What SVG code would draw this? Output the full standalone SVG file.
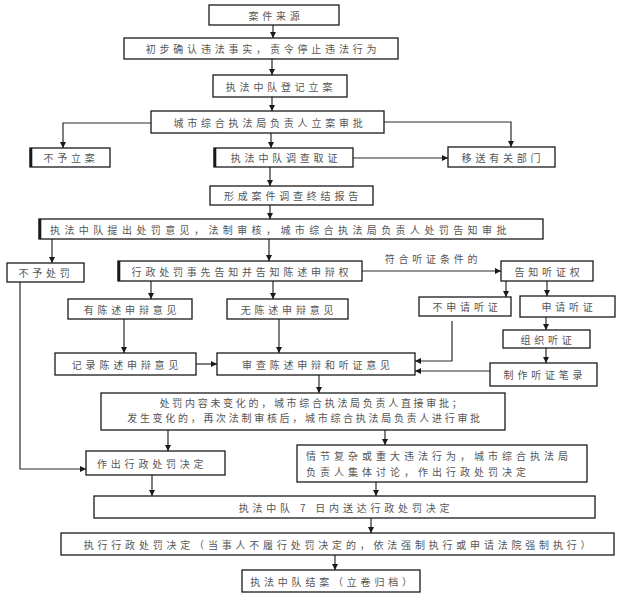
<svg xmlns="http://www.w3.org/2000/svg" width="632" height="597" viewBox="0 0 632 597">
<style>
.box{fill:#fff;stroke:#1a1a1a;stroke-width:1.3}
.thick{stroke:#1a1a1a;stroke-width:2.6}
.t{font-family:"Noto Sans CJK SC","Noto Sans",sans-serif;font-size:10px;fill:#555;letter-spacing:3.8px;dominant-baseline:central}
.m{text-anchor:middle}
.c{fill:none;stroke:#2a2a2a;stroke-width:1.2}
</style>
<defs>
<marker id="a" markerUnits="userSpaceOnUse" markerWidth="6" markerHeight="6" refX="6" refY="3" orient="auto">
<path d="M0,0 L6,3 L0,6 z" fill="#1a1a1a"/>
</marker>
</defs>
<rect width="632" height="597" fill="#fff"/>
<g id="connectors">
<path class="c" marker-end="url(#a)" d="M273,25 V38"/>
<path class="c" marker-end="url(#a)" d="M272,59 V75"/>
<path class="c" marker-end="url(#a)" d="M272,97 V111"/>
<path class="c" marker-end="url(#a)" d="M151,123 H63 V148"/>
<path class="c" marker-end="url(#a)" d="M384,122 H511 V147"/>
<path class="c" marker-end="url(#a)" d="M271,133 V148"/>
<path class="c" marker-end="url(#a)" d="M353,158 H448"/>
<path class="c" marker-end="url(#a)" d="M270,167 V186"/>
<path class="c" marker-end="url(#a)" d="M270,205 V219"/>
<path class="c" marker-end="url(#a)" d="M52,239 V263"/>
<path class="c" marker-end="url(#a)" d="M269,239 V261"/>
<path class="c" marker-end="url(#a)" d="M362,271 H501"/>
<path class="c" marker-end="url(#a)" d="M506,281 V297"/>
<path class="c" marker-end="url(#a)" d="M547,281 V296"/>
<path class="c" marker-end="url(#a)" d="M151,281 V299"/>
<path class="c" marker-end="url(#a)" d="M273,281 V299"/>
<path class="c" marker-end="url(#a)" d="M124,319 V353"/>
<path class="c" marker-end="url(#a)" d="M279,319 V353"/>
<path class="c" marker-end="url(#a)" d="M196,364 H217"/>
<path class="c" marker-end="url(#a)" d="M452,321 V361 H415"/>
<path class="c" marker-end="url(#a)" d="M546,317 V330"/>
<path class="c" marker-end="url(#a)" d="M546,348 V363"/>
<path class="c" marker-end="url(#a)" d="M490,371 H415"/>
<path class="c" marker-end="url(#a)" d="M319,375 V393"/>
<path class="c" marker-end="url(#a)" d="M20,282 V469 H86"/>
<path class="c" marker-end="url(#a)" d="M168,430 V451"/>
<path class="c" marker-end="url(#a)" d="M385,430 V445"/>
<path class="c" marker-end="url(#a)" d="M152,475 V496"/>
<path class="c" marker-end="url(#a)" d="M376,482 V496"/>
<path class="c" marker-end="url(#a)" d="M371,518 V533"/>
<path class="c" marker-end="url(#a)" d="M335,555 V570"/>
<text class="t m" x="433" y="258">符合听证条件的</text>
</g>
<g id="n1"><rect class="box" x="209" y="5" width="130" height="20"/><text class="t m" x="276" y="15">案件来源</text></g>
<g id="n2"><rect class="box" x="124" y="38" width="274" height="21"/><text class="t m" x="263" y="48.5">初步确认违法事实，责令停止违法行为</text></g>
<g id="n3"><rect class="box" x="213" y="75" width="134" height="22"/><text class="t m" x="281" y="86">执法中队登记立案</text></g>
<g id="n4"><rect class="box" x="151" y="111" width="233" height="22"/><text class="t m" x="270" y="122">城市综合执法局负责人立案审批</text></g>
<g id="n5"><rect class="box" x="30" y="148" width="80" height="19"/><line class="thick" x1="31" y1="148" x2="31" y2="167"/><text class="t m" x="71" y="157.5">不予立案</text></g>
<g id="n6"><rect class="box" x="214" y="148" width="139" height="19"/><line class="thick" x1="215" y1="148" x2="215" y2="167"/><text class="t m" x="286" y="157.5">执法中队调查取证</text></g>
<g id="n7"><rect class="box" x="448" y="147" width="107" height="20"/><text class="t m" x="503" y="157">移送有关部门</text></g>
<g id="n8"><rect class="box" x="210" y="186" width="163" height="19"/><text class="t m" x="293" y="195.5">形成案件调查终结报告</text></g>
<g id="n9"><rect class="box" x="39" y="219" width="504" height="20"/><line class="thick" x1="40" y1="219" x2="40" y2="239"/><text class="t" x="50" y="229" style="letter-spacing:4.4px">执法中队提出处罚意见，法制审核，城市综合执法局负责人处罚告知审批</text></g>
<g id="n10"><rect class="box" x="7" y="263" width="77" height="19"/><text class="t m" x="46" y="272.5">不予处罚</text></g>
<g id="n11"><rect class="box" x="118" y="261" width="244" height="20"/><line class="thick" x1="119" y1="261" x2="119" y2="281"/><text class="t m" x="242" y="271">行政处罚事先告知并告知陈述申辩权</text></g>
<g id="n12"><rect class="box" x="501" y="261" width="92" height="20"/><text class="t m" x="549" y="271">告知听证权</text></g>
<g id="n13"><rect class="box" x="68" y="299" width="124" height="20"/><text class="t m" x="132" y="309">有陈述申辩意见</text></g>
<g id="n14"><rect class="box" x="227" y="299" width="121" height="20"/><text class="t m" x="289" y="309">无陈述申辩意见</text></g>
<g id="n15"><rect class="box" x="419" y="297" width="92" height="19"/><text class="t m" x="467" y="306.5">不申请听证</text></g>
<g id="n16"><rect class="box" x="520" y="296" width="95" height="21"/><text class="t m" x="569" y="306.5">申请听证</text></g>
<g id="n17"><rect class="box" x="503" y="330" width="87" height="18"/><text class="t m" x="548" y="339">组织听证</text></g>
<g id="n18"><rect class="box" x="55" y="353" width="141" height="22"/><text class="t m" x="127" y="364">记录陈述申辩意见</text></g>
<g id="n19"><rect class="box" x="217" y="353" width="198" height="22"/><text class="t m" x="318" y="364">审查陈述申辩和听证意见</text></g>
<g id="n20"><rect class="box" x="490" y="363" width="107" height="23"/><text class="t m" x="545" y="374.5">制作听证笔录</text></g>
<g id="n21"><rect class="box" x="101" y="393" width="404" height="37"/><text class="t m" x="312" y="402" style="letter-spacing:2.7px">处罚内容未变化的，城市综合执法局负责人直接审批；</text><text class="t m" x="305" y="417" style="letter-spacing:2.7px">发生变化的，再次法制审核后，城市综合执法局负责人进行审批</text></g>
<g id="n22"><rect class="box" x="86" y="451" width="139" height="24"/><text class="t" x="97" y="463">作出行政处罚决定</text></g>
<g id="n23"><rect class="box" x="297" y="445" width="290" height="37"/><text class="t" x="306" y="455" style="letter-spacing:4px">情节复杂或重大违法行为，城市综合执法局</text><text class="t" x="306" y="471" style="letter-spacing:4px">负责人集体讨论，作出行政处罚决定</text></g>
<g id="n24"><rect class="box" x="94" y="496" width="501" height="22"/><text class="t m" x="346" y="507">执法中队 7 日内送达行政处罚决定</text></g>
<g id="n25"><rect class="box" x="61" y="533" width="553" height="22"/><text class="t m" x="339" y="544">执行行政处罚决定（当事人不履行处罚决定的，依法强制执行或申请法院强制执行）</text></g>
<g id="n26"><rect class="box" x="242" y="570" width="178" height="22"/><text class="t m" x="333" y="581">执法中队结案（立卷归档）</text></g>
</svg>
